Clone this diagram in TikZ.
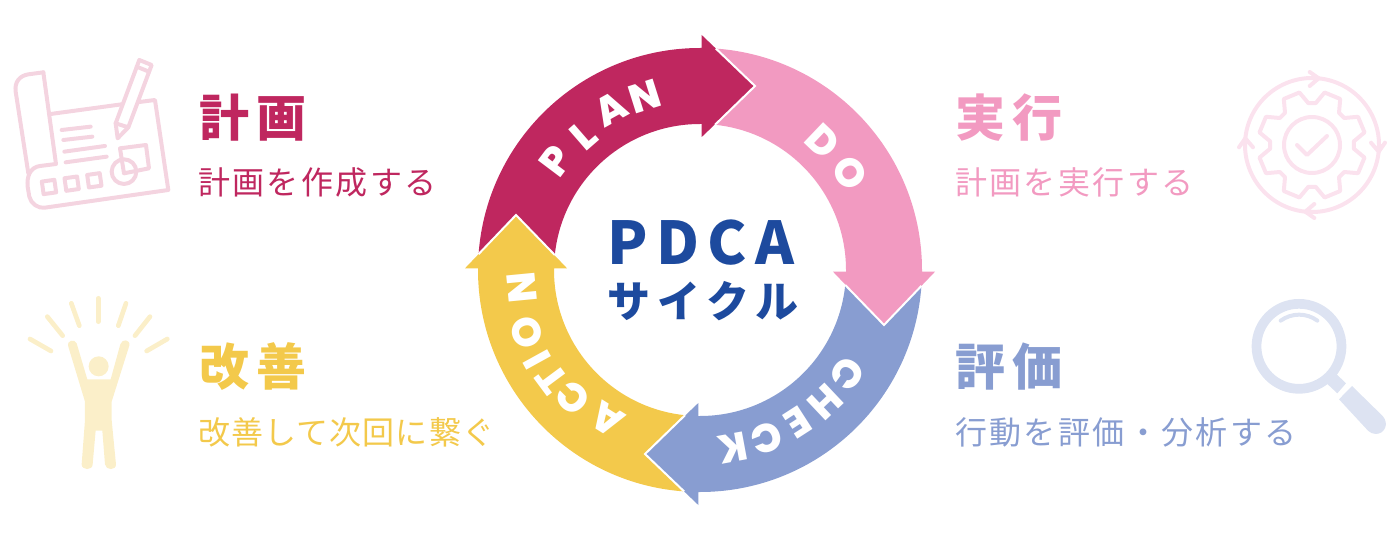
\documentclass[tikz,border=0pt]{standalone}
\usepackage{fontspec}
\setmainfont{Noto Sans CJK JP}
\newfontfamily\jpbody[LetterSpace=7.5]{Noto Sans CJK JP}
\newfontfamily\jpbodytight[LetterSpace=3.5]{Noto Sans CJK JP}
\newfontfamily\jptitle[LetterSpace=14]{Noto Sans CJK JP}
\newfontfamily\jpcentre[LetterSpace=14]{Noto Sans CJK JP}
\newfontfamily\jpcycle[LetterSpace=16]{Noto Sans CJK JP}
\newfontfamily\ringfont{Poppins ExtraBold}

\definecolor{planred}{HTML}{BF275F}
\definecolor{dopink}{HTML}{F29AC1}
\definecolor{checkblue}{HTML}{889DD1}
\definecolor{actionyellow}{HTML}{F3C94B}
\definecolor{centreblue}{HTML}{1D4A9E}
\definecolor{planicon}{HTML}{F4D4E0}
\definecolor{doicon}{HTML}{FBE2EE}
\definecolor{checkicon}{HTML}{DDE3F2}
\definecolor{actionicon}{HTML}{FBEFC9}

\tikzset{
    titletext/.style={anchor=west, inner sep=0pt, font=\jptitle\bfseries\fontsize{50}{50}\selectfont},
    bodytext/.style={anchor=west, inner sep=0pt, font=\jpbody\fontsize{32}{32}\selectfont},
    ringletter/.style={inner sep=0pt, text=white, font=\ringfont\fontsize{40}{40}\selectfont},
    iconline/.style={line width=4pt, line cap=round, line join=round}
}

\begin{document}
\begin{tikzpicture}[x=1pt, y=-1pt]
\useasboundingbox (0, 0) rectangle (1400, 540);

% Ring
\begin{scope}[shift={(700, 270)}, y=1pt]
\foreach \ang/\col in {0/planred, -90/dopink, -180/checkblue, -270/actionyellow}
    \fill[\col, rotate=\ang] (175.9:222) arc[start angle=175.9, end angle=90, radius=222]
        -- (1.7, 222) -- (1.7, 235) -- (55, 184) -- (1.7, 133) -- (1.7, 146) -- (0, 146)
        arc[start angle=90, end angle=174.1, radius=146] -- (-184, 55) -- cycle;
\foreach \ang in {0, -90, -180, -270}
    \draw[white, line width=2pt, rotate=\ang] (175.9:222) -- (-184, 55) -- (174.1:146);

% Ring letters
\foreach \letter/\ang/\rad [count=\n] in {P/143/181, L/131/178, A/119/184, N/107.5/182,
        D/46.4/178, O/33/179,
        C/-35.3/180, H/-46.6/182, E/-57.2/181, C/-68.3/181, K/-79.5/181,
        A/238/176, C/225/180, T/216.6/184, I/208.9/186, O/199.7/184, N/185.5/179}
    \node[ringletter, rotate=\ang-90] (letter\n) at (\ang:\rad) {\letter};
\end{scope}

% Centre
\node[inner sep=0pt, text=centreblue, font=\jpcentre\bfseries\fontsize{59}{59}\selectfont] (PDCA) at (701, 243) {PDCA};
\node[inner sep=0pt, text=centreblue, font=\jpcycle\bfseries\fontsize{43}{43}\selectfont] (CYCLE) at (703, 301) {サイクル};

% Labels
\node[titletext, text=planred] (PLANtitle) at (199, 118) {計画};
\node[bodytext, text=planred] (PLANbody) at (198, 182) {計画を作成する};
\node[titletext, text=dopink] (DOtitle) at (955, 118) {実行};
\node[bodytext, text=dopink] (DObody) at (955, 182) {計画を実行する};
\node[titletext, text=actionyellow] (ACTIONtitle) at (199, 367) {改善};
\node[bodytext, text=actionyellow, font=\jpbodytight\fontsize{32}{32}\selectfont] (ACTIONbody) at (198, 432) {改善して次回に繋ぐ};
\node[titletext, text=checkblue] (CHECKtitle) at (955, 367) {評価};
\node[bodytext, text=checkblue] (CHECKbody) at (955, 432) {行動を評価・分析する};

% Plan icon
\begin{scope}[shift={(0, 40)}, scale=0.3333, planicon, iconline]
\draw (130, 97) -- (85, 103) .. controls (60, 107) and (43, 125) .. (47, 155) -- (85, 400);
\draw (130, 97) -- (168, 372) -- (120, 378) .. controls (90, 382) and (80, 410) .. (83, 440)
    -- (88, 470) .. controls (92, 490) and (115, 507) .. (135, 503) -- (505, 450) -- (465, 180) -- (418, 186);
\draw (152, 222) -- (365, 193);
\draw (185, 270) -- (272, 260);
\draw (190, 300) -- (277, 290);
\draw (193, 335) -- (315, 318);
\draw (197, 367) -- (320, 350);
\foreach \cx/\cy in {147/441, 215/431, 283/421}
    \draw[shift={(\cx, \cy)}, rotate=8] (-19, -19) rectangle (19, 19);
\draw (372, 395) circle[radius=37];
\draw (372, 400) -- (360, 325) -- (438, 315) -- (447, 385) -- cycle;
\draw (347, 250) -- (418, 60) -- (455, 75) -- (385, 262) -- (353, 295) -- cycle;
\draw (347, 250) -- (385, 262);
\draw (410, 80) -- (447, 95);
\end{scope}

% Do icon
\begin{scope}[shift={(1312, 145)}, y=1pt, doicon, iconline]
\draw (22.5-9:54)
    \foreach \k in {0, ..., 7} {
        -- ({22.5+45*\k-9}:54) -- ({22.5+45*\k+9}:54) -- ({22.5+45*\k+17.5}:42) -- ({22.5+45*\k+27.5}:42)
    } -- cycle;
\draw (0, 0) circle[radius=28];
\draw (-15, 0) -- (-5, -10) -- (15, 9);
\foreach \ang in {0, -90, -180, -270}
    \draw[rotate=\ang] (174:67) arc[start angle=174, end angle=84, radius=67]
        (-2.3, 73) -- (6.7, 66.7) -- (-2.3, 59);
\end{scope}

% Action icon
\begin{scope}[shift={(10, 280)}, scale=0.3333, actionicon]
\foreach \xa/\ya/\xb/\yb in {60/177/123/213, 112/110/158/167, 184/70/208/137, 265/55/265/125,
        348/70/325/137, 420/110/375/167, 472/177/410/213}
    \draw[line width=4.7pt, line cap=round] (\xa, \ya) -- (\xb, \yb);
\fill (266, 259) circle[radius=30];
\fill (175, 200) -- (225, 365) -- (225, 420) -- (215, 553) .. controls (215, 572) and (248, 572) .. (248, 553)
    -- (257, 452) -- (277, 452) -- (285, 553) .. controls (287, 572) and (319, 572) .. (318, 553)
    -- (305, 420) -- (305, 365) -- (358, 197) .. controls (362, 178) and (336, 175) .. (331, 193)
    -- (302, 298) -- (232, 298) -- (200, 190) .. controls (194, 176) and (169, 180) .. cycle;
\end{scope}

% Check icon
\begin{scope}[shift={(1230, 280)}, scale=0.3333, checkicon]
\draw[line width=9.7pt] (207, 199) circle[radius=127.5];
\draw[line width=4pt, line cap=round] (152, 122) .. controls (185, 98) and (230, 98) .. (262, 122);
\fill (320, 283) -- (348, 310) -- (322, 340) -- (292, 312) -- cycle;
\fill (327, 358) -- (366, 318) -- (458, 408) .. controls (478, 430) and (465, 462) .. (437, 462)
    .. controls (428, 462) and (420, 458) .. (414, 452) -- cycle;
\end{scope}
\end{tikzpicture}
\end{document}
